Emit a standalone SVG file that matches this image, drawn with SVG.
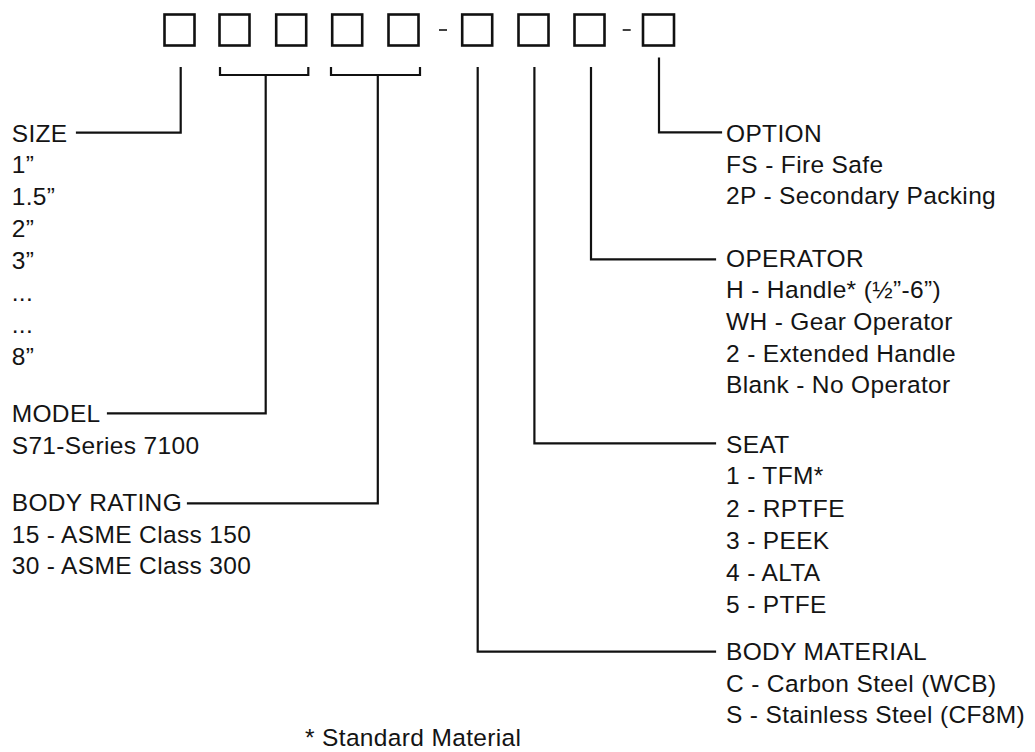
<svg xmlns="http://www.w3.org/2000/svg" width="1035" height="752" viewBox="0 0 1035 752">
<style>
.box{fill:none;stroke:#111;stroke-width:2.6}
.dash{stroke:#111;stroke-width:1.6}
.con{fill:none;stroke:#111;stroke-width:2.2;stroke-linejoin:miter;stroke-linecap:square}
text{font-family:"Liberation Sans",Arial,sans-serif;font-size:24.5px;fill:#141414;letter-spacing:0.35px}
</style>
<rect width="1035" height="752" fill="#fff"/>
<g id="code">
<rect class="box" x="164.5" y="14.5" width="30" height="31"/>
<rect class="box" x="219.5" y="14.5" width="30" height="31"/>
<rect class="box" x="276.2" y="14.5" width="30" height="31"/>
<rect class="box" x="332.2" y="14.5" width="30" height="31"/>
<rect class="box" x="388.5" y="14.5" width="30" height="31"/>
<line class="dash" x1="439" y1="30" x2="447" y2="30"/>
<rect class="box" x="462.2" y="14.5" width="30" height="31"/>
<rect class="box" x="518.5" y="14.5" width="30" height="31"/>
<rect class="box" x="574.5" y="14.5" width="30" height="31"/>
<line class="dash" x1="622.7" y1="30" x2="630.7" y2="30"/>
<rect class="box" x="643" y="14.5" width="31" height="31"/>
</g>
<g id="connectors">
<polyline class="con" points="180.7,68 180.7,132.7 77,132.7"/>
<polyline class="con" points="220,68 220,75 308.3,75 308.3,68"/>
<polyline class="con" points="265.7,75 265.7,413.3 108,413.3"/>
<polyline class="con" points="331,68 331,75 420,75 420,68"/>
<polyline class="con" points="377.8,75 377.8,503.3 188,503.3"/>
<polyline class="con" points="477.7,68 477.7,651.7 715,651.7"/>
<polyline class="con" points="534.4,68 534.4,443.3 715,443.3"/>
<polyline class="con" points="591,68 591,259.3 715,259.3"/>
<polyline class="con" points="659,58.5 659,132.3 721,132.3"/>
</g>
<g id="size">
<text x="11.7" y="141.7">SIZE</text>
<text x="11.7" y="173.3">1”</text>
<text x="11.7" y="205">1.5”</text>
<text x="11.7" y="237">2”</text>
<text x="11.7" y="269">3”</text>
<text x="11.7" y="301">...</text>
<text x="11.7" y="333">...</text>
<text x="11.7" y="365">8”</text>
</g>
<g id="model">
<text x="11.7" y="422">MODEL</text>
<text x="11.7" y="453.5">S71-Series 7100</text>
</g>
<g id="body-rating">
<text x="11.7" y="510.7">BODY RATING</text>
<text x="11.7" y="542.7">15 - ASME Class 150</text>
<text x="11.7" y="574.3">30 - ASME Class 300</text>
</g>
<g id="option">
<text x="726" y="141.7">OPTION</text>
<text x="726" y="172.7">FS - Fire Safe</text>
<text x="726" y="203.5">2P - Secondary Packing</text>
</g>
<g id="operator">
<text x="726" y="266.7">OPERATOR</text>
<text x="726" y="298.3">H - Handle* (½”-6”)</text>
<text x="726" y="330">WH - Gear Operator</text>
<text x="726" y="362.3">2 - Extended Handle</text>
<text x="726" y="393.3">Blank - No Operator</text>
</g>
<g id="seat">
<text x="726" y="452.7">SEAT</text>
<text x="726" y="484.3">1 - TFM*</text>
<text x="726" y="516.7">2 - RPTFE</text>
<text x="726" y="549">3 - PEEK</text>
<text x="726" y="580.7">4 - ALTA</text>
<text x="726" y="612.7">5 - PTFE</text>
</g>
<g id="body-material">
<text x="726" y="660">BODY MATERIAL</text>
<text x="726" y="691.7">C - Carbon Steel (WCB)</text>
<text x="726" y="723.3">S - Stainless Steel (CF8M)</text>
</g>
<g id="footnote">
<text x="305" y="746">* Standard Material</text>
</g>
</svg>
